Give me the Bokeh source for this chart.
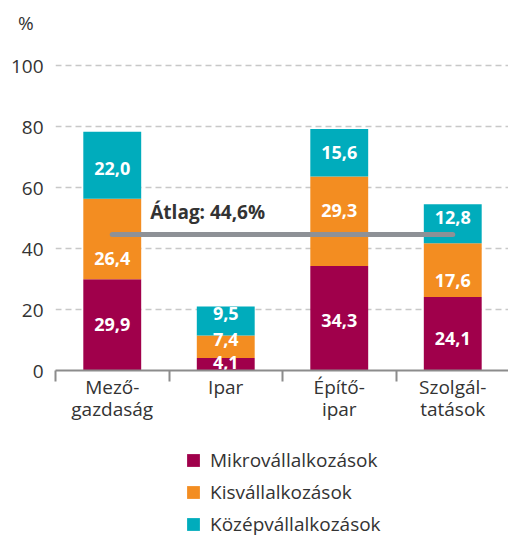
from bokeh.plotting import figure
from bokeh.layouts import column
from bokeh.models import (ColumnDataSource, Range1d, FixedTicker, Legend, LegendItem)
from bokeh.core.properties import value
from bokeh.embed import file_html
from bokeh.resources import INLINE

# ---- data ----
categories = ["Mező-\ngazdaság", "Ipar", "Építő-\nipar", "Szolgál-\ntatások"]
series_names = ["Mikrovállalkozások", "Kisvállalkozások", "Középvállalkozások"]
micro = [29.9, 4.1, 34.3, 24.1]
small = [26.4, 7.4, 29.3, 17.6]
medium = [22.0, 9.5, 15.6, 12.8]
average = 44.6
average_label = "Átlag: 44,6%"
y_ticks = [0, 20, 40, 60, 80, 100]
unit_label = "%"

# ---- styles ----
colors = ["#a0004b", "#f38d21", "#00acbc"]
FONT = "Open Sans"
TXT = "#333333"
# label nudges in pixels (up positive), per category per series
nudges = [[0, -19, -3], [2, 7, 7], [-2, 11, 0], [-5, -10, 6]]

W = 508
FRAME_TOP, FRAME_BOTTOM = 8, 370
PX_PER_UNIT = 3.05
Y_END = (FRAME_BOTTOM - FRAME_TOP) / PX_PER_UNIT
UNIT_Y = (FRAME_BOTTOM - 22) / PX_PER_UNIT   # where the "%" sits

xs = [i + 0.5 for i in range(len(categories))]
src = ColumnDataSource(dict(x=xs, micro=micro, small=small, medium=medium))

p = figure(width=W, height=425, output_backend="svg", toolbar_location=None,
           x_range=Range1d(0, (W - 55) / 113.5), y_range=Range1d(0, Y_END),
           min_border_left=55, min_border_right=0, min_border_top=FRAME_TOP,
           min_border_bottom=425 - FRAME_BOTTOM)
p.outline_line_color = None
p.background_fill_color = "white"
p.border_fill_color = "white"

# grid
p.xgrid.grid_line_color = None
p.ygrid.ticker = FixedTicker(ticks=y_ticks[1:])
p.ygrid.grid_line_color = "#c8c8c8"
p.ygrid.grid_line_width = 1.5
p.ygrid.grid_line_dash = "6 4"

# y axis (the unit "%" is drawn as an extra top label)
p.yaxis.ticker = FixedTicker(ticks=y_ticks + [UNIT_Y])
p.yaxis.major_label_overrides = {UNIT_Y: unit_label + "\u00a0\u00a0"}
p.yaxis.axis_line_color = None
p.yaxis.major_tick_line_color = None
p.yaxis.minor_tick_line_color = None
p.yaxis.major_label_standoff = 6
p.yaxis.major_label_text_font = FONT
p.yaxis.major_label_text_font_size = "19px"
p.yaxis.major_label_text_color = TXT

# x axis
p.xaxis.ticker = FixedTicker(ticks=xs, minor_ticks=list(range(len(categories) + 1)))
p.xaxis.major_label_overrides = {x: c for x, c in zip(xs, categories)}
p.xaxis.axis_line_color = "#8c8c8c"
p.xaxis.axis_line_width = 2
p.xaxis.major_tick_out = 0
p.xaxis.major_tick_in = 0
p.xaxis.minor_tick_out = 11
p.xaxis.minor_tick_in = 0
p.xaxis.minor_tick_line_color = "#8c8c8c"
p.xaxis.minor_tick_line_width = 2
p.xaxis.major_label_standoff = -8
p.xaxis.major_label_text_font = FONT
p.xaxis.major_label_text_font_size = "19px"
p.xaxis.major_label_text_color = TXT
p.xaxis.major_label_text_line_height = 0.88

# bars
rs = p.vbar_stack(["micro", "small", "medium"], x="x", width=0.51, color=colors,
                  line_color=None, source=src)

# average line
p.line(x=[xs[0], xs[-1]], y=[average, average], line_color="#8e9196",
       line_width=5, line_cap="round")
p.text(x=[xs[0]], y=[average + 7.4], text=[average_label], text_font=value(FONT),
       text_font_size="19px", text_font_style="bold", text_color=TXT,
       text_baseline="middle", x_offset=38)

# value labels
lx, ly, lt = [], [], []
for i in range(len(categories)):
    base = 0.0
    for j, ser in enumerate([micro, small, medium]):
        v = ser[i]
        lx.append(xs[i])
        ly.append(base + v / 2 + nudges[i][j] / PX_PER_UNIT)
        lt.append(f"{v:.1f}".replace(".", ","))
        base += v
p.text(x=lx, y=ly, text=lt, text_font=value(FONT), text_font_size="18px",
       text_font_style="bold", text_color="white", text_align="center",
       text_baseline="middle")

# legend figure
q = figure(width=W, height=113, output_backend="svg", toolbar_location=None,
           x_range=Range1d(0, 1), y_range=Range1d(0, 1),
           x_axis_location=None, y_axis_location=None,
           min_border=0, min_border_left=55)
q.outline_line_color = None
q.xgrid.grid_line_color = None
q.ygrid.grid_line_color = None
dummies = [q.vbar(x=[5], top=[5], width=1, fill_color=c, line_color=None) for c in colors]
legend = Legend(items=[LegendItem(label=n, renderers=[r]) for n, r in zip(series_names, dummies)],
                location=(130, 1), orientation="vertical")
legend.glyph_width = 16
legend.glyph_height = 16
legend.label_standoff = 9
legend.label_height = 16
legend.spacing = 6
legend.padding = 0
legend.margin = 0
legend.border_line_color = None
legend.background_fill_alpha = 0
legend.label_text_font = FONT
legend.label_text_font_size = "19px"
legend.label_text_color = TXT
legend.label_text_baseline = "middle"
q.add_layout(legend)

layout = column(p, q, spacing=0)
open("out.html", "w").write(file_html(layout, INLINE))
